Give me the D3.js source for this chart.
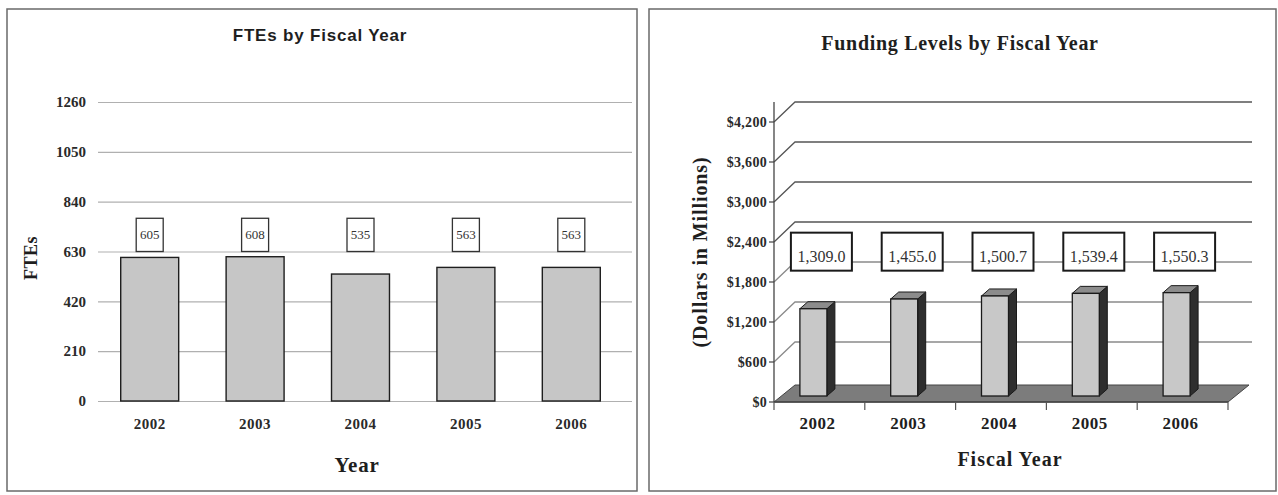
<!DOCTYPE html>
<html>
<head>
<meta charset="utf-8">
<script src="https://cdn.jsdelivr.net/npm/d3@7"></script>
<style>
  html, body { margin: 0; padding: 0; background: #fff; }
  svg { display: block; }
</style>
</head>
<body>
<svg id="chart" width="1278" height="495"></svg>
<script>
// ---------- data ----------
const years = ["2002", "2003", "2004", "2005", "2006"];
const fteValues = [605, 608, 535, 563, 563];
const fteLabels = ["605", "608", "535", "563", "563"];
const fteTicks = [0, 210, 420, 630, 840, 1050, 1260];

const fundValues = [1309.0, 1455.0, 1500.7, 1539.4, 1550.3];
const fundLabels = ["1,309.0", "1,455.0", "1,500.7", "1,539.4", "1,550.3"];
const fundTicks = [0, 600, 1200, 1800, 2400, 3000, 3600, 4200];
const fundTickLabels = ["$0", "$600", "$1,200", "$1,800", "$2,400", "$3,000", "$3,600", "$4,200"];

const serif = "'Liberation Serif', 'Times New Roman', serif";
const sans = "'Liberation Sans', Arial, sans-serif";

const svg = d3.select("#chart");
svg.append("rect").attr("width", 1278).attr("height", 495).attr("fill", "#fff");

// panel frames
svg.append("rect").attr("x", 7).attr("y", 9).attr("width", 630).attr("height", 482)
  .attr("fill", "none").attr("stroke", "#6a6a6a").attr("stroke-width", 1.5);
svg.append("rect").attr("x", 649).attr("y", 9).attr("width", 627).attr("height", 482)
  .attr("fill", "none").attr("stroke", "#6a6a6a").attr("stroke-width", 1.5);

// ================= LEFT: FTEs =================
const L = svg.append("g");
const yL = d3.scaleLinear().domain([0, 1260]).range([401, 102]);
const xL = d3.scaleBand().domain(years).range([97, 624]).paddingInner(0.45).paddingOuter(0.225);

const yAxisL = L.append("g").attr("transform", "translate(98,0)")
  .call(d3.axisLeft(yL).tickValues(fteTicks).tickSize(-534).tickPadding(12).tickFormat(d3.format("d")));
yAxisL.select(".domain").remove();
yAxisL.selectAll("line").attr("stroke", "#b0b0b0").attr("stroke-width", 1.2);
yAxisL.selectAll("text").attr("font-family", serif).attr("font-weight", "bold")
  .attr("font-size", 15).attr("fill", "#2a2a2a");

L.selectAll(".bar").data(fteValues).join("rect")
  .attr("x", (d, i) => xL(years[i]))
  .attr("y", d => yL(d))
  .attr("width", xL.bandwidth())
  .attr("height", d => yL(0) - yL(d))
  .attr("fill", "#c6c6c6").attr("stroke", "#1e1e1e").attr("stroke-width", 1.4);

// value label boxes
const boxW = 27;
L.selectAll(".lbox").data(fteLabels).join("rect")
  .attr("x", (d, i) => xL(years[i]) + xL.bandwidth() / 2 - boxW / 2)
  .attr("y", yL(770))
  .attr("width", boxW)
  .attr("height", yL(630) - yL(770))
  .attr("fill", "#fff").attr("stroke", "#333").attr("stroke-width", 1.3);
L.selectAll(".ltxt").data(fteLabels).join("text")
  .attr("x", (d, i) => xL(years[i]) + xL.bandwidth() / 2)
  .attr("y", yL(700) + 4)
  .attr("text-anchor", "middle")
  .attr("font-family", serif).attr("font-size", 13).attr("fill", "#333")
  .text(d => d);

const xAxisL = L.append("g").attr("transform", `translate(0,${yL(0)})`)
  .call(d3.axisBottom(xL).tickSize(0).tickPadding(17));
xAxisL.select(".domain").remove();
xAxisL.selectAll("text").attr("font-family", serif).attr("font-weight", "bold")
  .attr("font-size", 15).attr("fill", "#2a2a2a").attr("letter-spacing", 0.5);

L.append("text").attr("x", 320).attr("y", 41).attr("text-anchor", "middle")
  .attr("font-family", sans).attr("font-weight", "bold").attr("font-size", 17)
  .attr("letter-spacing", 0.8).attr("fill", "#1e1e1e")
  .text("FTEs by Fiscal Year");
L.append("text").attr("x", 357).attr("y", 472).attr("text-anchor", "middle")
  .attr("font-family", serif).attr("font-weight", "bold").attr("font-size", 21)
  .attr("letter-spacing", 0.8).attr("fill", "#1e1e1e")
  .text("Year");
L.append("text").attr("transform", "translate(37,258) rotate(-90)").attr("text-anchor", "middle")
  .attr("font-family", serif).attr("font-weight", "bold").attr("font-size", 18)
  .attr("letter-spacing", 0.5).attr("fill", "#1e1e1e")
  .text("FTEs");

// ================= RIGHT: Funding (3D) =================
const R = svg.append("g");
const yR = d3.scaleLinear().domain([0, 4500]).range([402, 102]);
const xR = d3.scaleBand().domain(years).range([774, 1228]);
const DX = 21, DY = -20;      // wall depth offset
const gridEnd = 1252;

// back-wall gridlines
R.selectAll(".grid").data(fundTicks.filter(t => t > 0)).join("path")
  .attr("d", t => `M${xR.range()[0]},${yR(t)} L${xR.range()[0] + DX},${yR(t) + DY} L${gridEnd},${yR(t) + DY}`)
  .attr("fill", "none")
  .attr("stroke", t => t >= 2400 ? "#555" : "#8a8a8a")
  .attr("stroke-width", 1.3);

// floor
const x0 = xR.range()[0], x1 = xR.range()[1];
R.append("path")
  .attr("d", `M${x0},${yR(0)} L${x1},${yR(0)} L${x1 + DX},${yR(0) + DY + 3} L${x0 + DX},${yR(0) + DY + 3} Z`)
  .attr("fill", "#7c7c7c").attr("stroke", "#444").attr("stroke-width", 1);

// y axis line + ticks + labels
R.append("line").attr("x1", x0).attr("x2", x0).attr("y1", yR(0)).attr("y2", yR(4500))
  .attr("stroke", "#444").attr("stroke-width", 1.3);
R.selectAll(".ytick").data(fundTicks).join("line")
  .attr("x1", x0 - 5).attr("x2", x0).attr("y1", t => yR(t)).attr("y2", t => yR(t))
  .attr("stroke", "#444").attr("stroke-width", 1.2);
R.selectAll(".ylab").data(fundTicks).join("text")
  .attr("x", x0 - 7).attr("y", t => yR(t) + 5)
  .attr("text-anchor", "end")
  .attr("font-family", serif).attr("font-weight", "bold").attr("font-size", 14)
  .attr("letter-spacing", 0.3).attr("fill", "#2a2a2a")
  .text((t, i) => fundTickLabels[i]);

// x axis front edge + ticks
R.append("line").attr("x1", x0).attr("x2", x1).attr("y1", yR(0)).attr("y2", yR(0))
  .attr("stroke", "#444").attr("stroke-width", 1.3);
const bounds = years.map(d => xR(d)).concat([x1]);
R.selectAll(".xtick").data(bounds).join("line")
  .attr("x1", d => d).attr("x2", d => d).attr("y1", yR(0)).attr("y2", yR(0) + 8)
  .attr("stroke", "#555").attr("stroke-width", 1.2);

// bars (3D)
const BW = 27, BSHIFT = -6, BDY = -6, SDX = 8, SDY = -7;
const bars = R.selectAll(".bar3d").data(fundValues).join("g");
bars.each(function (v, i) {
  const g = d3.select(this);
  const cx = xR(years[i]) + xR.bandwidth() / 2 + BSHIFT;
  const left = cx - BW / 2, right = cx + BW / 2;
  const top = yR(v) + BDY, base = yR(0) + BDY;
  g.append("path")
    .attr("d", `M${right},${top} L${right + SDX},${top + SDY} L${right + SDX},${base + SDY} L${right},${base} Z`)
    .attr("fill", "#2e2e2e").attr("stroke", "#1a1a1a").attr("stroke-width", 1);
  g.append("path")
    .attr("d", `M${left},${top} L${left + SDX},${top + SDY} L${right + SDX},${top + SDY} L${right},${top} Z`)
    .attr("fill", "#8c8c8c").attr("stroke", "#1a1a1a").attr("stroke-width", 1);
  g.append("rect").attr("x", left).attr("y", top).attr("width", BW).attr("height", base - top)
    .attr("fill", "#c8c8c8").attr("stroke", "#1a1a1a").attr("stroke-width", 1.3);
});

// value label boxes
const rBoxW = 61;
R.selectAll(".rbox").data(fundLabels).join("rect")
  .attr("x", (d, i) => xR(years[i]) + xR.bandwidth() / 2 - rBoxW / 2 + 2)
  .attr("y", yR(2540))
  .attr("width", rBoxW)
  .attr("height", yR(1970) - yR(2540))
  .attr("fill", "#fff").attr("stroke", "#1a1a1a").attr("stroke-width", 2);
R.selectAll(".rtxt").data(fundLabels).join("text")
  .attr("x", (d, i) => xR(years[i]) + xR.bandwidth() / 2 + 2)
  .attr("y", yR(2100))
  .attr("text-anchor", "middle")
  .attr("font-family", serif).attr("font-size", 16).attr("fill", "#333")
  .text(d => d);

// x labels
R.selectAll(".xlab").data(years).join("text")
  .attr("x", d => xR(d) + xR.bandwidth() / 2 - 2)
  .attr("y", yR(0) + 27)
  .attr("text-anchor", "middle")
  .attr("font-family", serif).attr("font-weight", "bold").attr("font-size", 17)
  .attr("letter-spacing", 0.5).attr("fill", "#1e1e1e")
  .text(d => d);

R.append("text").attr("x", 960).attr("y", 50).attr("text-anchor", "middle")
  .attr("font-family", serif).attr("font-weight", "bold").attr("font-size", 20)
  .attr("letter-spacing", 0.7).attr("fill", "#1e1e1e")
  .text("Funding Levels by Fiscal Year");
R.append("text").attr("x", 1010).attr("y", 466).attr("text-anchor", "middle")
  .attr("font-family", serif).attr("font-weight", "bold").attr("font-size", 20)
  .attr("letter-spacing", 1).attr("fill", "#1e1e1e")
  .text("Fiscal Year");
R.append("text").attr("transform", "translate(707,252) rotate(-90)").attr("text-anchor", "middle")
  .attr("font-family", serif).attr("font-weight", "bold").attr("font-size", 20)
  .attr("letter-spacing", 0.9).attr("fill", "#1e1e1e")
  .text("(Dollars in Millions)");
</script>
</body>
</html>
